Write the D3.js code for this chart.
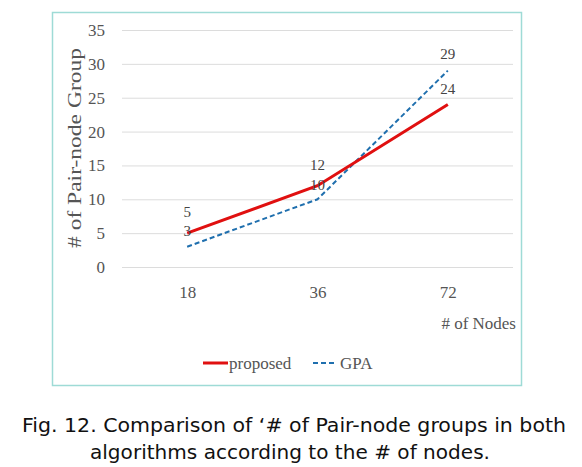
<!DOCTYPE html>
<html><head><meta charset="utf-8">
<script src="https://cdn.jsdelivr.net/npm/d3@7"></script>
<style>body{margin:0;background:#fff}</style>
</head><body>
<script>
const categories = ["18", "36", "72"];
const proposed = [5, 12, 24];
const gpa = [3, 10, 29];
const yTicks = [0, 5, 10, 15, 20, 25, 30, 35];

const W = 582, H = 467;
const svg = d3.select("body").append("svg").attr("width", W).attr("height", H);
const serif = "'Liberation Serif', 'DejaVu Serif', serif";
const txt = "#555";

svg.append("rect").attr("x", 52.5).attr("y", 12.5).attr("width", 469).attr("height", 373)
  .attr("fill", "#fff").attr("stroke", "#9edbd6").attr("stroke-width", 1.5);

const x = d3.scalePoint().domain(categories).range([122, 513]).padding(0.5);
const y = d3.scaleLinear().domain([0, 35]).range([267, 30]);

// grid
svg.append("g").selectAll("line").data(yTicks).join("line")
  .attr("x1", 122).attr("x2", 513)
  .attr("y1", d => y(d) + 0.5).attr("y2", d => y(d) + 0.5)
  .attr("stroke", "#dcdcdc").attr("stroke-width", 1);

// y axis
const yAx = svg.append("g").attr("transform", "translate(105,0)")
  .call(d3.axisLeft(y).tickValues(yTicks).tickSize(0).tickPadding(0));
yAx.attr("font-family", serif).attr("font-size", 17);
yAx.select(".domain").remove();
yAx.selectAll("text").attr("fill", txt);

// x axis
const xAx = svg.append("g").attr("transform", "translate(0,286)")
  .call(d3.axisBottom(x).tickSize(0).tickPadding(0));
xAx.attr("font-family", serif).attr("font-size", 17);
xAx.select(".domain").remove();
xAx.selectAll("text").attr("fill", txt);

svg.append("text").attr("x", 516).attr("y", 329).attr("text-anchor", "end")
  .attr("font-family", serif).attr("font-size", 17).attr("fill", txt).text("# of Nodes");

svg.append("text").attr("transform", "translate(81,148) rotate(-90)").attr("text-anchor", "middle")
  .attr("font-family", serif).attr("font-size", 18).attr("fill", txt)
  .attr("textLength", 200).attr("lengthAdjust", "spacingAndGlyphs").text("# of  Pair-node Group");

const line = d3.line().x((d, i) => x(categories[i])).y(d => y(d));
svg.append("path").datum(gpa).attr("d", line).attr("fill", "none")
  .attr("stroke", "#1f6fae").attr("stroke-width", 2).attr("stroke-dasharray", "5,3");
svg.append("path").datum(proposed).attr("d", line).attr("fill", "none")
  .attr("stroke", "#e01010").attr("stroke-width", 3);

// data labels
const lab = svg.append("g").attr("font-family", serif).attr("font-size", 15).attr("fill", "#444").attr("text-anchor", "middle");
const offP = [-16, -16, -10], offG = [-11, -9, -12];
proposed.forEach((v, i) => lab.append("text").attr("x", x(categories[i])).attr("y", y(v) + offP[i]).text(v));
gpa.forEach((v, i) => lab.append("text").attr("x", x(categories[i])).attr("y", y(v) + offG[i]).text(v));

// legend
svg.append("line").attr("x1", 203).attr("x2", 228).attr("y1", 363).attr("y2", 363)
  .attr("stroke", "#e01010").attr("stroke-width", 3);
svg.append("text").attr("x", 229).attr("y", 369).attr("font-family", serif).attr("font-size", 17).attr("fill", txt).text("proposed");
svg.append("line").attr("x1", 313).attr("x2", 337).attr("y1", 363).attr("y2", 363)
  .attr("stroke", "#1f6fae").attr("stroke-width", 2).attr("stroke-dasharray", "5,3");
svg.append("text").attr("x", 340).attr("y", 369).attr("font-family", serif).attr("font-size", 17).attr("fill", txt).text("GPA");

// caption
const cap = "'DejaVu Sans', 'Noto Sans', sans-serif";
svg.append("text").attr("x", 22).attr("y", 432).attr("font-family", cap)
  .attr("font-size", 19).attr("fill", "#111")
  .attr("textLength", 544).attr("lengthAdjust", "spacingAndGlyphs")
  .text("Fig. 12. Comparison of  ‘# of Pair-node groups in both");
svg.append("text").attr("x", 90).attr("y", 459).attr("font-family", cap)
  .attr("font-size", 19).attr("fill", "#111")
  .attr("textLength", 400).attr("lengthAdjust", "spacingAndGlyphs")
  .text("algorithms according to the # of nodes.");
</script>
</body></html>
